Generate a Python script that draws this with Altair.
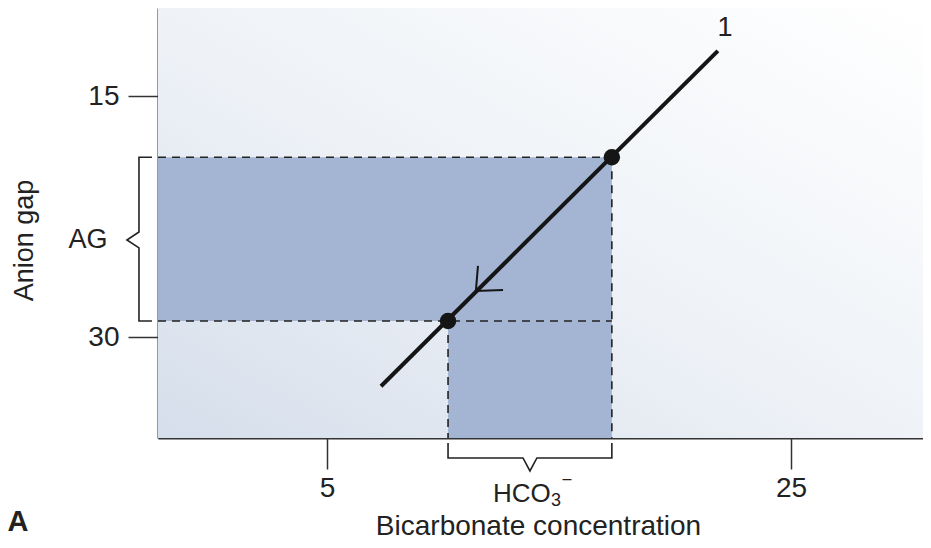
import altair as alt
import pandas as pd

# ---- scales / ticks ----
x_domain = [-2.28, 30.69]
y_domain = [9.52, 36.28]
x_ticks = [5, 25]
y_ticks = [15, 30]

# ---- main line and its two marked points ----
line_x = [7.33, 21.85]
line_y = [33.06, 12.19]
point_x = [10.22, 17.28]
point_y = [29.0, 18.81]

# ---- arrowhead on the line (arm, tip, arm) ----
arrow_x = [11.51, 11.42, 12.59]
arrow_y = [25.57, 27.13, 27.07]

# ---- bracket annotations ----
ag_bracket_x = [-2.54, -3.10, -3.10, -3.62, -3.10, -3.10, -2.54]
ag_bracket_y = [18.81, 18.81, 23.46, 23.96, 24.45, 29.0, 29.0]
hco_bracket_x = [10.22, 10.22, 13.45, 13.75, 14.05, 17.28, 17.28]
hco_bracket_y = [36.59, 37.52, 37.52, 38.33, 37.52, 37.52, 36.59]

# ---- text annotations ----
label_text = ["1", "AG", "A"]
label_x = [22.16, -5.30, -8.32]
label_y = [10.76, 23.96, 41.5]

FONT = "Liberation Sans"
INK = "#222222"
SHADE = "#a3b5d3"

X = lambda f: alt.X(f, type="quantitative", scale=alt.Scale(domain=x_domain, nice=False, zero=False),
                    axis=alt.Axis(values=x_ticks, title="Bicarbonate concentration", grid=False,
                                  tickSize=31, tickWidth=1.5, tickColor="#333", domainColor="#333",
                                  domainWidth=2, labelFontSize=28, labelFont=FONT, labelColor=INK,
                                  labelPadding=5, titleFont=FONT, titleFontSize=28,
                                  titleFontWeight="normal", titleColor=INK, titleX=380, titleY=96,
                                  titleBaseline="alphabetic", titleAnchor="start", titleAlign="center"))
Y = lambda f: alt.Y(f, type="quantitative", scale=alt.Scale(domain=y_domain, nice=False, zero=False, reverse=True),
                    axis=alt.Axis(values=y_ticks, title="Anion gap", grid=False,
                                  tickSize=30, tickWidth=1.5, tickColor="#333", domainColor="#333",
                                  domainWidth=2, labelFontSize=28, labelFont=FONT, labelColor=INK,
                                  labelPadding=9, titleFont=FONT, titleFontSize=27,
                                  titleFontWeight="normal", titleColor=INK, titleX=-134, titleY=232,
                                  titleBaseline="middle", titleAlign="center", titleAngle=-90))

# background gradient covering the plot area
bg_df = pd.DataFrame({"x": [x_domain[0]], "x2": [x_domain[1]], "y": [y_domain[0]], "y2": [y_domain[1]]})
gradient = alt.LinearGradient(
    gradient="linear",
    stops=[alt.GradientStop(color="#d5deeb", offset=0),
           alt.GradientStop(color="#edf1f6", offset=0.45),
           alt.GradientStop(color="#ffffff", offset=1)],
    x1=0, y1=1, x2=1, y2=0)
bg = alt.Chart(bg_df).mark_rect(fill=gradient).encode(
    x=X("x"), x2="x2", y=Y("y"), y2="y2")

# shaded regions
shade_df = pd.DataFrame({
    "x": [x_domain[0], point_x[0]],
    "x2": [point_x[1], point_x[1]],
    "y": [point_y[1], point_y[0]],
    "y2": [point_y[0], y_domain[1]],
})
shade = alt.Chart(shade_df).mark_rect(fill=SHADE).encode(
    x=X("x"), x2="x2", y=Y("y"), y2="y2")

# dashed guide lines
dash_df = pd.DataFrame({
    "x": [x_domain[0], x_domain[0], point_x[1], point_x[0]],
    "x2": [point_x[1], point_x[1], point_x[1], point_x[0]],
    "y": [point_y[1], point_y[0], point_y[1], point_y[0]],
    "y2": [point_y[1], point_y[0], y_domain[1], y_domain[1]],
})
dashes = alt.Chart(dash_df).mark_rule(color=INK, strokeWidth=1.6, strokeDash=[8, 6]).encode(
    x=X("x"), x2="x2", y=Y("y"), y2="y2")

# main line
line_df = pd.DataFrame({"x": line_x, "y": line_y, "o": [0, 1]})
line = alt.Chart(line_df).mark_line(color="#151515", strokeWidth=4).encode(
    x=X("x"), y=Y("y"), order="o:Q")

# arrowhead
arrow_df = pd.DataFrame({"x": arrow_x, "y": arrow_y, "o": [0, 1, 2]})
arrow = alt.Chart(arrow_df).mark_line(color="#151515", strokeWidth=2).encode(
    x=X("x"), y=Y("y"), order="o:Q")

# points
pt_df = pd.DataFrame({"x": point_x, "y": point_y})
points = alt.Chart(pt_df).mark_circle(color="#151515", size=270, opacity=1).encode(
    x=X("x"), y=Y("y"))

# brackets
br_df = pd.DataFrame({
    "x": ag_bracket_x + hco_bracket_x,
    "y": ag_bracket_y + hco_bracket_y,
    "g": ["ag"] * 7 + ["hco"] * 7,
    "o": list(range(7)) * 2,
})
brackets = alt.Chart(br_df).mark_line(color=INK, strokeWidth=1.6).encode(
    x=X("x"), y=Y("y"), detail="g:N", order="o:Q")

# text labels
lab_df = pd.DataFrame({"t": label_text[:2], "x": label_x[:2], "y": label_y[:2]})
labels = alt.Chart(lab_df).mark_text(font=FONT, fontSize=27, color=INK, baseline="middle", align="center").encode(
    x=X("x"), y=Y("y"), text="t:N")

a_df = pd.DataFrame({"t": label_text[2:], "x": label_x[2:], "y": label_y[2:]})
a_label = alt.Chart(a_df).mark_text(font=FONT, fontSize=29, fontWeight="bold", color=INK,
                                    baseline="middle", align="center").encode(
    x=X("x"), y=Y("y"), text="t:N")

# HCO3- label pieces
hco_df = pd.DataFrame({"t": ["HCO"], "x": [12.16], "y": [40.26]})
hco = alt.Chart(hco_df).mark_text(font=FONT, fontSize=26, color=INK, baseline="alphabetic", align="left").encode(
    x=X("x"), y=Y("y"), text="t:N")
sub_df = pd.DataFrame({"t": ["3"], "x": [14.66], "y": [40.50]})
sub = alt.Chart(sub_df).mark_text(font=FONT, fontSize=18, color=INK, baseline="alphabetic", align="left").encode(
    x=X("x"), y=Y("y"), text="t:N")
sup_df = pd.DataFrame({"t": ["–"], "x": [15.15], "y": [38.83]})
sup = alt.Chart(sup_df).mark_text(font=FONT, fontSize=16, color=INK, baseline="middle", align="left").encode(
    x=X("x"), y=Y("y"), text="t:N")

chart = alt.layer(bg, shade, dashes, line, arrow, points, brackets, labels, a_label, hco, sub, sup).properties(
    width=765, height=430,
    autosize=alt.AutoSizeParams(type="none"),
    padding={"left": 150, "top": 0, "right": 0, "bottom": 101},
).configure_view(stroke=None).configure(background="white")

chart.save("out.html", embed_options={"renderer": "svg", "actions": False})
